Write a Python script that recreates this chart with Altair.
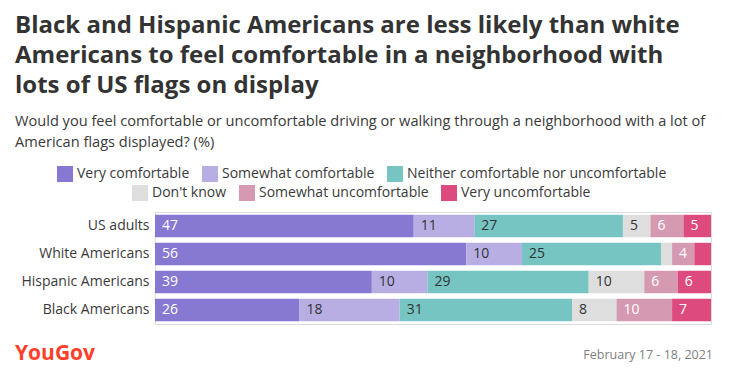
import altair as alt
import pandas as pd

groups = ["US adults", "White Americans", "Hispanic Americans", "Black Americans"]
categories = [
    "Very comfortable",
    "Somewhat comfortable",
    "Neither comfortable nor uncomfortable",
    "Don't know",
    "Somewhat uncomfortable",
    "Very uncomfortable",
]
very_comfortable = [47, 56, 39, 26]
somewhat_comfortable = [11, 10, 10, 18]
neither = [27, 25, 29, 31]
dont_know = [5, 2, 10, 8]
somewhat_uncomfortable = [6, 4, 6, 10]
very_uncomfortable = [5, 3, 6, 7]
colors = ["#8779d1", "#b8aee4", "#76c5c3", "#dedede", "#d699b2", "#dd4b7e"]

title_lines = [
    "Black and Hispanic Americans are less likely than white",
    "Americans to feel comfortable in a neighborhood with",
    "lots of US flags on display",
]
subtitle_lines = [
    "Would you feel comfortable or uncomfortable driving or walking through a neighborhood with a lot of",
    "American flags displayed? (%)",
]
brand = ["YouGov"]
date_note = ["February 17 - 18, 2021"]

series = [very_comfortable, somewhat_comfortable, neither, dont_know,
          somewhat_uncomfortable, very_uncomfortable]
rows = []
for ci, (cat, vals) in enumerate(zip(categories, series)):
    for g, v in zip(groups, vals):
        rows.append({"group": g, "cat": cat, "order": ci, "value": v})
df = pd.DataFrame(rows)

FONT = "Open Sans"
TXT = "#3a3a3a"

base = alt.Chart(df).transform_stack(
    stack="value",
    groupby=["group"],
    sort=[alt.SortField("order", order="ascending")],
    as_=["x0", "x1"],
    offset="normalize",
)

yenc = alt.Y(
    "group:N",
    sort=groups,
    scale=alt.Scale(paddingInner=0.2, paddingOuter=0.1),
    axis=alt.Axis(title=None, ticks=False, domain=False, labelFontSize=14,
                  labelColor=TXT, labelFont=FONT, labelPadding=6, labelLimit=0),
)
xenc = alt.X("x0:Q", scale=alt.Scale(domain=[0, 1]), axis=None)


def legend(x, y):
    return alt.Legend(
        orient="none", legendX=x, legendY=y, direction="horizontal", title=None,
        symbolType="square", symbolSize=256, symbolStrokeWidth=0,
        symbolOpacity=1, labelFontSize=14, labelFont=FONT, labelLimit=0,
        labelColor=TXT, columnPadding=12, labelOffset=4,
    )


bars_a = base.transform_filter("datum.order < 3").mark_bar().encode(
    x=xenc, x2="x1:Q", y=yenc,
    color=alt.Color("cat:N", scale=alt.Scale(domain=categories[:3], range=colors[:3]),
                    legend=legend(-98, -46)),
)
bars_b = base.transform_filter("datum.order >= 3").mark_bar().encode(
    x=xenc, x2="x1:Q", y=yenc,
    color=alt.Color("cat:N", scale=alt.Scale(domain=categories[3:], range=colors[3:]),
                    legend=legend(-23, -27)),
)
labels = base.transform_filter("datum.value >= 4").transform_calculate(
    tc="(datum.order == 0 || datum.order >= 4) ? '#ffffff' : '#333333'"
).mark_text(align="left", baseline="middle", dx=7, fontSize=14, font=FONT).encode(
    x=xenc, y=yenc, text="value:Q", color=alt.Color("tc:N", scale=None),
)

logo = alt.Chart(pd.DataFrame({"t": brand})).mark_text(
    align="left", baseline="middle", fontSize=21, fontWeight="bold",
    font=FONT, color="#ff412c",
).encode(text="t:N", x=alt.value(-140), y=alt.value(142))

date = alt.Chart(pd.DataFrame({"t": date_note})).mark_text(
    align="right", baseline="middle", fontSize=12.5, font=FONT, color="#808080",
).encode(text="t:N", x=alt.value(558), y=alt.value(143))

chart = alt.layer(bars_a, bars_b, labels, logo, date).resolve_scale(
    color="independent"
).properties(
    width=556,
    height=112,
    autosize=alt.AutoSizeParams(type="none"),
    padding={"left": 147, "top": 204, "right": 11, "bottom": 48},
    title=alt.TitleParams(
        text=title_lines, subtitle=subtitle_lines, anchor="start", frame="group",
        dx=-140, fontSize=24, fontWeight="bold", font=FONT, color="#333333",
        lineHeight=30, subtitleFont=FONT, subtitleFontSize=14.6,
        subtitleColor=TXT, subtitleLineHeight=21, subtitlePadding=16,
        offset=16,
    ),
).configure_view(stroke=None).configure(background="#ffffff")

chart.save("out.html", embed_options={"renderer": "svg", "actions": False})
